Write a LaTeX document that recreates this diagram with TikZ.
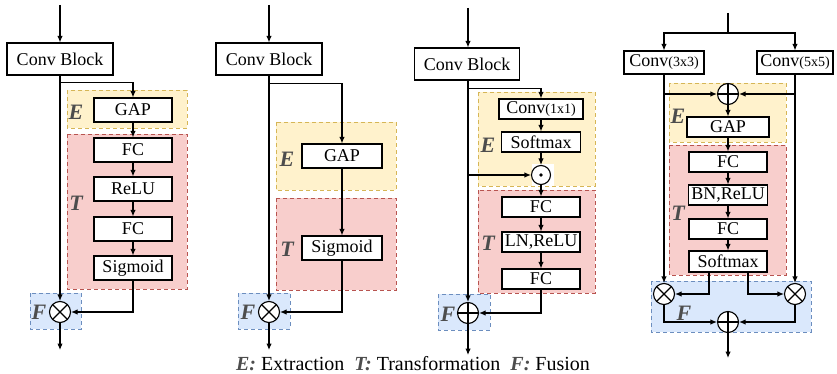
\documentclass[tikz,border=0pt]{standalone}
\usepackage{fontspec}
\setmainfont{Liberation Serif}
\usetikzlibrary{arrows.meta}
\definecolor{efill}{HTML}{FFF2CC}
\definecolor{eline}{HTML}{D6B656}
\definecolor{tfill}{HTML}{F8CECC}
\definecolor{tline}{HTML}{B85450}
\definecolor{ffill}{HTML}{DAE8FC}
\definecolor{fline}{HTML}{6C8EBF}
\definecolor{labgray}{HTML}{4D4D4D}
\tikzset{
  ln/.style={line width=1.1pt},
  arr/.style={ln, -{Latex[length=6.5pt,width=5.5pt]}},
  blk/.style={draw, line width=1.1pt, fill=white, inner sep=0pt,
    font=\fontsize{18}{18}\selectfont},
  reg/.style={line width=0.9pt, dash pattern=on 4pt off 3pt},
  ereg/.style={reg, draw=eline, fill=efill},
  treg/.style={reg, draw=tline, fill=tfill},
  freg/.style={reg, draw=fline, fill=ffill},
  lab/.style={font=\fontsize{22}{22}\selectfont\bfseries\itshape, text=labgray, inner sep=0pt},
  opcirc/.style={circle, draw, line width=1.1pt, fill=white, minimum size=21pt, inner sep=0pt},
  otimes/.style={opcirc, path picture={
    \draw[line width=1.1pt] (path picture bounding box.north west) -- (path picture bounding box.south east)
      (path picture bounding box.south west) -- (path picture bounding box.north east);}},
  oplus/.style={opcirc, path picture={
    \draw[line width=1.1pt] (path picture bounding box.north) -- (path picture bounding box.south)
      (path picture bounding box.west) -- (path picture bounding box.east);}},
  odot/.style={opcirc, minimum size=19pt},
}
\newcommand{\smallpar}[1]{{\fontsize{14}{14}\selectfont #1}}
\begin{document}
\begin{tikzpicture}[x=1pt, y=-1pt]
\useasboundingbox (0,0) rectangle (837,374);

% ---------------- SE block ----------------
\draw[ereg] (67,90) rectangle (187,128);
\draw[treg] (67,134) rectangle (187,289);
\draw[freg] (30,293) rectangle (81,329);
\node[lab] at (76,112) {E};
\node[lab] at (76,203) {T};
\node[lab] at (39,312) {F};

\coordinate (in1) at (60,5);
\coordinate (out1) at (60,350);
\node[blk, minimum width=106pt, minimum height=32pt] (cb1) at (60,59) {Conv Block};
\node[blk, minimum width=78pt, minimum height=24pt] (gap1) at (133,110) {GAP};
\node[blk, minimum width=78pt, minimum height=24pt] (fc1a) at (133,150) {FC};
\node[blk, minimum width=78pt, minimum height=24pt] (relu1) at (133,189) {ReLU};
\node[blk, minimum width=78pt, minimum height=24pt] (fc1b) at (133,229) {FC};
\node[blk, minimum width=78pt, minimum height=24pt] (sig1) at (133,268) {Sigmoid};
\node[otimes] (m1) at (60,312) {};

\draw[arr] (in1) -- (cb1);
\draw[arr] (cb1) -- (m1);
\draw[arr] (cb1.south) ++(0,7) -| (gap1.north);
\draw[arr] (gap1) -- (fc1a);
\draw[arr] (fc1a) -- (relu1);
\draw[arr] (relu1) -- (fc1b);
\draw[arr] (fc1b) -- (sig1);
\draw[arr] (sig1.south) |- (m1.east);
\draw[arr] (m1) -- (out1);

% ---------------- simplified block ----------------
\draw[ereg] (276,122) rectangle (396,190);
\draw[treg] (276,198) rectangle (396,290);
\draw[freg] (238,293) rectangle (290,329);
\node[lab] at (287,159) {E};
\node[lab] at (287,249) {T};
\node[lab] at (248,312) {F};

\coordinate (in2) at (269,5);
\coordinate (out2) at (269,350);
\node[blk, minimum width=106pt, minimum height=32pt] (cb2) at (269,59) {Conv Block};
\node[blk, minimum width=80pt, minimum height=24pt] (gap2) at (342,156) {GAP};
\node[blk, minimum width=80pt, minimum height=24pt] (sig2) at (342,248) {Sigmoid};
\node[otimes] (m2) at (269,312) {};

\draw[arr] (in2) -- (cb2);
\draw[arr] (cb2) -- (m2);
\draw[arr] (cb2.south) ++(0,8) -| (gap2.north);
\draw[arr] (gap2) -- (sig2);
\draw[arr] (sig2.south) |- (m2.east);
\draw[arr] (m2) -- (out2);

% ---------------- global context block ----------------
\draw[ereg] (478,92) rectangle (595,186);
\draw[treg] (478,190) rectangle (595,293);
\draw[freg] (438,294) rectangle (490,330);
\node[lab] at (488,145) {E};
\node[lab] at (488,243) {T};
\node[lab] at (448,314) {F};

\coordinate (in3) at (468,8);
\coordinate (out3) at (468,355);
\node[blk, minimum width=105pt, minimum height=32pt] (cb3) at (467,64) {Conv Block};
\node[blk, minimum width=84pt, minimum height=20pt] (c11) at (541,109) {Conv\smallpar{(1x1)}};
\node[blk, minimum width=79pt, minimum height=20pt] (sm3) at (541,142) {Softmax};
\fill[white] (532,164) rectangle (554,186);
\node[odot] (d3) at (541,175) {};
\fill (d3.center) circle (1.8pt);
\node[blk, minimum width=78pt, minimum height=20pt] (fc3a) at (541,207) {FC};
\node[blk, minimum width=78pt, minimum height=20pt] (lnr3) at (541,242) {LN,ReLU};
\node[blk, minimum width=78pt, minimum height=20pt] (fc3b) at (541,279) {FC};
\node[oplus] (p3) at (468,313) {};

\draw[arr] (in3) -- (in3 |- cb3.north);
\draw[arr] (in3 |- cb3.south) -- (p3);
\draw[arr] (in3 |- cb3.south) ++(0,8) -| (c11.north);
\draw[arr] (c11) -- (sm3);
\draw[arr] (sm3) -- (d3);
\draw[arr] (in3 |- d3) -- (d3.west);
\draw[arr] (d3) -- (fc3a);
\draw[arr] (fc3a) -- (lnr3);
\draw[arr] (lnr3) -- (fc3b);
\draw[arr] (fc3b.south) |- (p3.east);
\draw[arr] (p3) -- (out3);

% ---------------- selective kernel block ----------------
\draw[ereg] (669,83) rectangle (786,142);
\draw[treg] (669,145) rectangle (786,275);
\draw[freg] (651,281) rectangle (811,332);
\node[lab] at (678,116) {E};
\node[lab] at (678,213) {T};
\node[lab] at (684,313) {F};

\coordinate (in4) at (728,13);
\coordinate (split4) at (728,33);
\coordinate (out4) at (728,358);
\node[blk, minimum width=80pt, minimum height=23pt] (c3) at (664,62.5) {Conv\smallpar{(3x3)}};
\node[blk, minimum width=76pt, minimum height=23pt] (c5) at (795,62.5) {Conv\smallpar{(5x5)}};
\node[oplus] (p4) at (728,94) {};
\node[blk, minimum width=82pt, minimum height=20pt] (gap4) at (728,127) {GAP};
\node[blk, minimum width=78pt, minimum height=20pt] (fc4a) at (728,162) {FC};
\node[blk, minimum width=79pt, minimum height=20pt] (bnr4) at (728,195) {BN,ReLU};
\node[blk, minimum width=78pt, minimum height=20pt] (fc4b) at (728,229) {FC};
\node[blk, minimum width=78pt, minimum height=21pt] (sm4) at (728,261.5) {Softmax};
\node[otimes] (ml4) at (664,294) {};
\node[otimes] (mr4) at (795,294) {};
\node[oplus] (q4) at (728,322) {};

\draw[ln] (in4) -- (split4);
\draw[arr] (split4) -| (c3.north);
\draw[arr] (split4) -| (c5.north);
\draw[arr] (c3) -- (ml4);
\draw[arr] (c5) -- (mr4);
\draw[arr] (c3.south |- p4) -- (p4.west);
\draw[arr] (c5.south |- p4) -- (p4.east);
\draw[arr] (p4) -- (gap4);
\draw[arr] (gap4) -- (fc4a);
\draw[arr] (fc4a) -- (bnr4);
\draw[arr] (bnr4) -- (fc4b);
\draw[arr] (fc4b) -- (sm4);
\draw[arr] ([xshift=-19pt]sm4.south) |- (ml4.east);
\draw[arr] ([xshift=20pt]sm4.south) |- (mr4.west);
\draw[arr] (ml4.south) |- (q4.west);
\draw[arr] (mr4.south) |- (q4.east);
\draw[arr] (q4) -- (out4);

% ---------------- legend ----------------
\node[font=\fontsize{20}{20}\selectfont, inner sep=0pt] (legend) at (413,364)
  {\textcolor{labgray}{\textbf{\textit{E:}}} Extraction\enspace
   \textcolor{labgray}{\textbf{\textit{T:}}} Transformation\enspace
   \textcolor{labgray}{\textbf{\textit{F:}}} Fusion};
\end{tikzpicture}
\end{document}
